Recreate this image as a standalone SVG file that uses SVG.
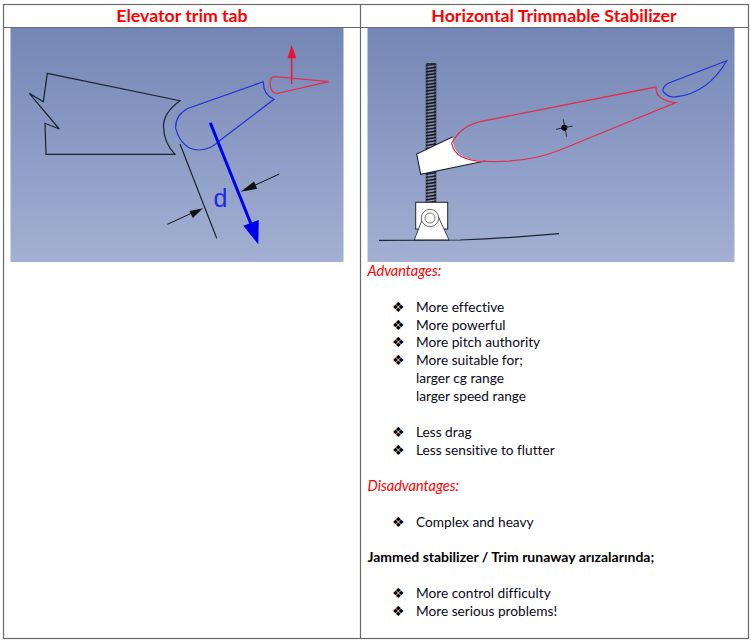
<svg xmlns="http://www.w3.org/2000/svg" width="751" height="640" viewBox="0 0 751 640">
<style>
text{font-variant-ligatures:none}
.t{font-family:"Lato","Open Sans",sans-serif;font-size:13.7px;fill:#0a0a18}
.b{font-family:"DejaVu Sans",sans-serif;font-size:14px;fill:#000}
.h{font-family:"Lato","Open Sans",sans-serif;font-size:17.700px;font-weight:700;fill:#f00;text-anchor:middle}
.r{font-family:"Lato","Open Sans",sans-serif;font-size:14.5px;font-style:italic;fill:#f00}
.g{stroke:#6a6a6a;stroke-width:1.2;fill:none}
.k{fill:none;stroke:#1c2230;stroke-width:1.200}
.rd{fill:none;stroke:#e0304f;stroke-width:1.300}
.bl{fill:none;stroke:#2233d8;stroke-width:1.200}
</style>
<defs>
<linearGradient id="bg" x1="0" y1="0" x2="0" y2="1"><stop offset="0" stop-color="#7486b5"/><stop offset="1" stop-color="#a3b0d3"/></linearGradient>
<pattern id="thread" width="11" height="3.200" patternUnits="userSpaceOnUse" x="425.500" y="63"><path d="M0 2.600L11 0.800" stroke="#111" stroke-width="1.500" fill="none"/></pattern>
</defs>
<rect width="751" height="640" fill="#fff"/>
<g id="table">
<rect class="g" x="3.500" y="4.500" width="745" height="634"/>
<line class="g" x1="3.500" y1="27.500" x2="748.500" y2="27.500"/>
<line class="g" x1="360.500" y1="4.500" x2="360.500" y2="638.500"/>
<text class="h" x="182" y="21.500">Elevator trim tab</text>
<text class="h" x="554" y="21.500">Horizontal Trimmable Stabilizer</text>
</g>
<g id="elevator-trim-tab">
<rect x="10.500" y="28" width="333" height="234" fill="url(#bg)"/>
<path class="k" d="M47.300 73.300L180 100.700Q163 113 163.500 127Q164 143 175 154.300L46 154.300L45 123.300L59.300 129L29.300 93.300L43.300 101.700Z"/>
<path class="bl" d="M263.300 81.700L188.300 108.300Q175 115 175.700 128.300Q181.700 150 200 150Q211.700 149 218.300 141.700L274 99.300Q263.300 95 263.300 81.700Z"/>
<path class="rd" d="M328.700 81.700L275 76.700Q270 76.700 270 83.300Q270.700 93.300 276.700 93.700Z"/>
<line x1="291.700" y1="84" x2="291.700" y2="56" stroke="#e8203f" stroke-width="1.600"/>
<path d="M291.700 45L287.500 58.300L296.300 58.300Z" fill="#ee1030"/>
<line class="k" x1="180" y1="144" x2="216.700" y2="238.300"/>
<line x1="210.300" y1="122.700" x2="251" y2="224" stroke="#0000f0" stroke-width="3"/>
<path d="M243.300 225.700L258.700 220L258.300 244.300Z" fill="#0000f0"/>
<text x="220.500" y="207" font-family="Liberation Sans,sans-serif" font-size="25" fill="#1a2ae0" text-anchor="middle">d</text>
<line x1="167.300" y1="224.300" x2="195" y2="211.700" stroke="#111" stroke-width="1"/>
<path d="M203 208.300L189.500 211L192.800 218Z" fill="#111"/>
<line x1="279.300" y1="174" x2="250" y2="187.500" stroke="#111" stroke-width="1"/>
<path d="M240.700 191.700L254 181.500L257.200 188.800Z" fill="#111"/>
</g>
<g id="horizontal-trimmable-stabilizer">
<rect x="367.500" y="28" width="367" height="234" fill="url(#bg)"/>
<g id="screw">
<rect x="425.500" y="63.500" width="11" height="139" fill="url(#thread)"/>
<rect x="427" y="63.500" width="8" height="139" fill="none" stroke="#111" stroke-width="0.700"/>
</g>
<path d="M416.700 154L452.700 136.700Q451 160 485 161L420.700 174.300Z" fill="#fff"/>
<path d="M452.700 136.700L416.700 154L420.700 174.300L485 161" fill="none" stroke="#1c2230" stroke-width="1.100"/>
<path class="rd" d="M656 87L480 121.700Q460 126.700 451.700 143.300Q455 161 485 161.300Q526.700 163.300 560 150L675.700 102.700Q655 100 656 87Z"/>
<path class="bl" d="M726.700 60.700L668.300 83.300Q661.700 87.300 663.300 91.700Q668.300 98.300 676.700 96.700Q708 93 726.700 60.700Z"/>
<circle cx="564.300" cy="127.700" r="3" fill="#000"/>
<path d="M556 129.300L572.700 126M563.300 119.300L566.700 136.700" stroke="#111" stroke-width="0.800" fill="none"/>
<rect x="415.700" y="202.300" width="32" height="26.700" fill="#fff" stroke="#1c2230" stroke-width="1"/>
<path d="M414.300 240L423.300 216.700L438.300 216.700L449 240Z" fill="#fff" stroke="#1c2230" stroke-width="0.800"/>
<circle cx="430" cy="218" r="8.700" fill="#fff" stroke="#444" stroke-width="0.800"/>
<circle cx="430" cy="218" r="5" fill="#fff" stroke="#555" stroke-width="0.800"/>
<path class="k" d="M379 240.300L460 240Q510 238 559 233.700"/>
</g>
<g id="text-block">
<text class="r" x="367.500" y="276">Advantages:</text>
<text class="b" x="392" y="311.500">❖</text><text class="t" x="416" y="312">More effective</text>
<text class="b" x="392" y="329.500">❖</text><text class="t" x="416" y="330">More powerful</text>
<text class="b" x="392" y="346.500">❖</text><text class="t" x="416" y="347">More pitch authority</text>
<text class="b" x="392" y="364.500">❖</text><text class="t" x="416" y="365">More suitable for;</text>
<text class="t" x="416" y="383">larger cg range</text>
<text class="t" x="416" y="401">larger speed range</text>
<text class="b" x="392" y="436.500">❖</text><text class="t" x="416" y="437">Less drag</text>
<text class="b" x="392" y="454.500">❖</text><text class="t" x="416" y="455">Less sensitive to flutter</text>
<text class="r" x="367.500" y="491">Disadvantages:</text>
<text class="b" x="392" y="526.500">❖</text><text class="t" x="416" y="527">Complex and heavy</text>
<text class="t" x="367.500" y="562" style="font-size:14px;font-weight:700;fill:#000">Jammed stabilizer / Trim runaway arızalarında;</text>
<text class="b" x="392" y="597.500">❖</text><text class="t" x="416" y="598">More control difficulty</text>
<text class="b" x="392" y="615.500">❖</text><text class="t" x="416" y="616">More serious problems!</text>
</g>
</svg>
